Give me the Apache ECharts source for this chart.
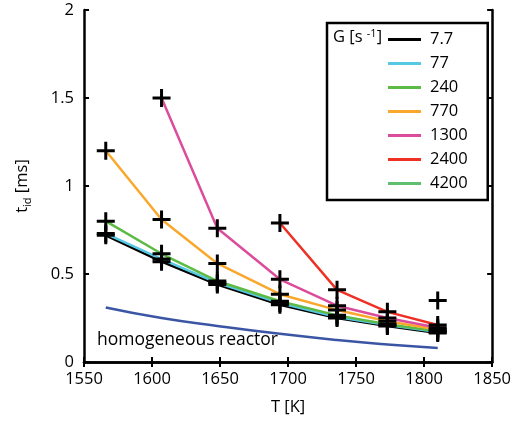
<!DOCTYPE html>
<html>
<head>
<meta charset="utf-8">
<script src="https://cdn.jsdelivr.net/npm/echarts@6/dist/echarts.min.js"></script>
<style>html,body{margin:0;padding:0;background:#fff}#c{width:514px;height:421px}</style>
</head>
<body>
<div id="c"></div>
<script>
// Temperatures [K]
var temps = [1566, 1607, 1648, 1694, 1736, 1773, 1810];
// Ignition delay t_id [ms] for each strain rate G [s^-1]
var g7_7  = [0.72, 0.57, 0.44, 0.325, 0.25, 0.205, 0.165];
var g77   = [0.73, 0.585, 0.45, 0.335, 0.255, 0.21, 0.17];
var g240  = [0.80, 0.615, 0.46, 0.345, 0.265, 0.215, 0.175];
var g770  = [1.20, 0.81, 0.56, 0.385, 0.295, 0.232, 0.185];
var g1300 = [null, 1.50, 0.76, 0.47, 0.32, 0.25, 0.195];
var g2400 = [null, null, null, 0.79, 0.41, 0.285, 0.21];
var g4200 = [null, null, null, null, null, null, 0.35];
var homogeneous = [0.31, 0.25, 0.205, 0.16, 0.125, 0.10, 0.08];
var gLabels = ['7.7', '77', '240', '770', '1300', '2400', '4200'];
var xTicks = [1550, 1600, 1650, 1700, 1750, 1800, 1850];
var yTicks = [0, 0.5, 1, 1.5, 2];

var colors = ['#000000', '#55c8e2', '#5dba45', '#f9a82d', '#db4d9c', '#ee3124', '#5fbf6e'];
var gData = [g7_7, g77, g240, g770, g1300, g2400, g4200];
var FONT = 'Open Sans';
var FS = 16.5;

function pairs(arr) {
  var out = [];
  for (var i = 0; i < temps.length; i++) {
    if (arr[i] !== null) out.push([temps[i], arr[i]]);
  }
  return out;
}

var plus = 'path://M-1.5,-9 H1.5 V-1.5 H9 V1.5 H1.5 V9 H-1.5 V1.5 H-9 V-1.5 H-1.5 Z';

var series = [];
series.push({
  name: 'homogeneous reactor', type: 'line', data: pairs(homogeneous), smooth: true,
  showSymbol: false, lineStyle: { color: '#3b55a5', width: 2.5 }, z: 2
});
for (var k = 0; k < gData.length; k++) {
  series.push({
    name: gLabels[k], type: 'line', data: pairs(gData[k]), showSymbol: false,
    symbol: 'none', color: colors[k],
    lineStyle: { color: colors[k], width: 2.5 }, z: 3
  });
}
for (var k = 0; k < gData.length; k++) {
  series.push({
    name: 'pts' + k, type: 'scatter', data: pairs(gData[k]), symbol: plus,
    symbolSize: 18, itemStyle: { color: '#000', opacity: 1 }, z: 5, silent: true
  });
}

var chart = echarts.init(document.getElementById('c'), null, { renderer: 'canvas' });
var axisLabel = { color: '#000', fontFamily: FONT, fontSize: FS };
chart.setOption({
  animation: false,
  backgroundColor: '#fff',
  grid: { left: 84, right: 21, top: 10, bottom: 59, containLabel: false },
  xAxis: [{
    type: 'value', min: xTicks[0], max: xTicks[xTicks.length - 1], interval: 50,
    position: 'bottom',
    name: 'T [K]', nameLocation: 'middle', nameGap: 37,
    nameTextStyle: { color: '#000', fontFamily: FONT, fontSize: FS },
    axisLine: { lineStyle: { color: '#000', width: 2.5 } },
    axisTick: { inside: true, length: 5, lineStyle: { color: '#000', width: 2 } },
    axisLabel: Object.assign({ margin: 9, formatter: function (v) { return String(v); } }, axisLabel),
    splitLine: { show: false }
  }, {
    type: 'value', min: xTicks[0], max: xTicks[xTicks.length - 1], interval: 50,
    position: 'top',
    axisLine: { lineStyle: { color: '#000', width: 2.5 } },
    axisTick: { inside: true, length: 5, lineStyle: { color: '#000', width: 2 } },
    axisLabel: { show: false }, splitLine: { show: false }
  }],
  yAxis: [{
    type: 'value', min: yTicks[0], max: yTicks[yTicks.length - 1], interval: 0.5,
    position: 'left',
    name: '{a|t}{b|id}{a| [ms]}', nameLocation: 'middle', nameGap: 51, nameRotate: 90,
    nameTextStyle: {
      color: '#000', fontFamily: FONT, fontSize: FS,
      rich: {
        a: { fontFamily: FONT, fontSize: FS, color: '#000', lineHeight: 22, verticalAlign: 'middle' },
        b: { fontFamily: FONT, fontSize: 11, color: '#000', lineHeight: 22, verticalAlign: 'bottom', padding: [8, 0, 0, 0] }
      }
    },
    axisLine: { lineStyle: { color: '#000', width: 2.5 } },
    axisTick: { inside: true, length: 5, lineStyle: { color: '#000', width: 2 } },
    axisLabel: Object.assign({ margin: 10 }, axisLabel),
    splitLine: { show: false }
  }, {
    type: 'value', min: yTicks[0], max: yTicks[yTicks.length - 1], interval: 0.5,
    position: 'right',
    axisLine: { lineStyle: { color: '#000', width: 2.5 } },
    axisTick: { inside: true, length: 5, lineStyle: { color: '#000', width: 2 } },
    axisLabel: { show: false }, splitLine: { show: false }
  }],
  legend: {
    data: gLabels, orient: 'vertical', left: 327, top: 23,
    padding: [8, 20, 8, 61], itemGap: 7, itemWidth: 33, itemHeight: 3, icon: 'rect',
    backgroundColor: '#fff', borderColor: '#000', borderWidth: 2.5,
    textStyle: { color: '#000', fontFamily: FONT, fontSize: FS, lineHeight: 16, padding: [0, 0, 0, 4] },
    selectedMode: false
  },
  graphic: [{
    type: 'text', left: 333, top: 28, z: 100,
    style: {
      text: '{a|G [s }{s|-1}{a|]}', fill: '#000',
      rich: {
        a: { fontFamily: FONT, fontSize: FS, fill: '#000', lineHeight: 22 },
        s: { fontFamily: FONT, fontSize: 11, fill: '#000', lineHeight: 22, padding: [0, 0, 8, 0] }
      }
    }
  }, {
    type: 'text', left: 97, top: 331, z: 100,
    style: { text: 'homogeneous reactor', fill: '#000', fontFamily: FONT, fontSize: 17.5 }
  }],
  series: series
});
</script>
</body>
</html>
